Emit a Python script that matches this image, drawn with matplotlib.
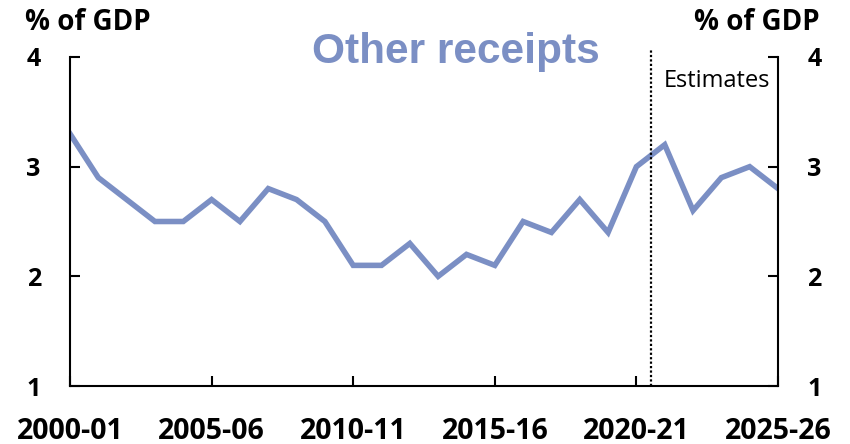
import matplotlib
matplotlib.use('Agg')
import matplotlib.pyplot as plt

# datos (% del PIB)
years = ['2000-01', '2001-02', '2002-03', '2003-04', '2004-05', '2005-06', '2006-07',
         '2007-08', '2008-09', '2009-10', '2010-11', '2011-12', '2012-13', '2013-14',
         '2014-15', '2015-16', '2016-17', '2017-18', '2018-19', '2019-20', '2020-21',
         '2021-22', '2022-23', '2023-24', '2024-25', '2025-26']
other_receipts = [3.3, 2.9, 2.7, 2.5, 2.5, 2.7, 2.5, 2.8, 2.7, 2.5, 2.1, 2.1, 2.3, 2.0,
                  2.2, 2.1, 2.5, 2.4, 2.7, 2.4, 3.0, 3.2, 2.6, 2.9, 3.0, 2.8]
tick_labels = ['2000-01', '2005-06', '2010-11', '2015-16', '2020-21', '2025-26']
y_ticks = [1, 2, 3, 4]
estimates_start = 20.5

line_color = '#7b8fc4'
font = 'Open Sans'

fig = plt.figure(figsize=(8.5, 4.44), dpi=100)
ax = fig.add_axes([70/850, 1 - 386/444, 708/850, 329/444])

x = list(range(len(years)))
ax.plot(x, other_receipts, color=line_color, linewidth=4, solid_joinstyle='miter')
ax.axvline(estimates_start, ymin=0, ymax=1.021, clip_on=False, color='black',
           linestyle=(0, (1, 1)), linewidth=1.6)

ax.set_xlim(0, len(years) - 1)
ax.set_ylim(1, 4)
ax.set_yticks(y_ticks)
ax.set_xticks([years.index(t) for t in tick_labels])
ax.set_xticklabels(tick_labels)

ax.spines['top'].set_visible(False)
for s in ['left', 'right', 'bottom']:
    ax.spines[s].set_linewidth(1.5)

# marcas hacia adentro y etiquetas a ambos lados
ax.tick_params(axis='both', direction='in', length=7, width=1.5)
ax.tick_params(axis='y', left=True, right=True, labelleft=True, labelright=True, pad=21)
ax.tick_params(axis='x', pad=22)
for t in ax.yaxis.get_major_ticks():
    for lab in (t.label1, t.label2):
        lab.set_fontfamily(font)
        lab.set_fontweight('bold')
        lab.set_fontsize(18)
for lab in ax.get_xticklabels():
    lab.set_fontfamily(font)
    lab.set_fontweight('bold')
    lab.set_fontsize(20.5)

fig.text(25/850, 1 - 23/444, '% of GDP', family=font, weight='bold', fontsize=20,
         va='center', ha='left')
fig.text(820/850, 1 - 23/444, '% of GDP', family=font, weight='bold', fontsize=20,
         va='center', ha='right')
fig.text(455.5/850, 1 - 63/444, 'Other receipts', family='Liberation Sans', weight='bold',
         fontsize=30.5, color=line_color, va='baseline', ha='center')
fig.text(770/850, 1 - 87/444, 'Estimates', family=font, fontsize=17,
         ha='right', va='baseline')

fig.savefig('out.png', dpi=100)
